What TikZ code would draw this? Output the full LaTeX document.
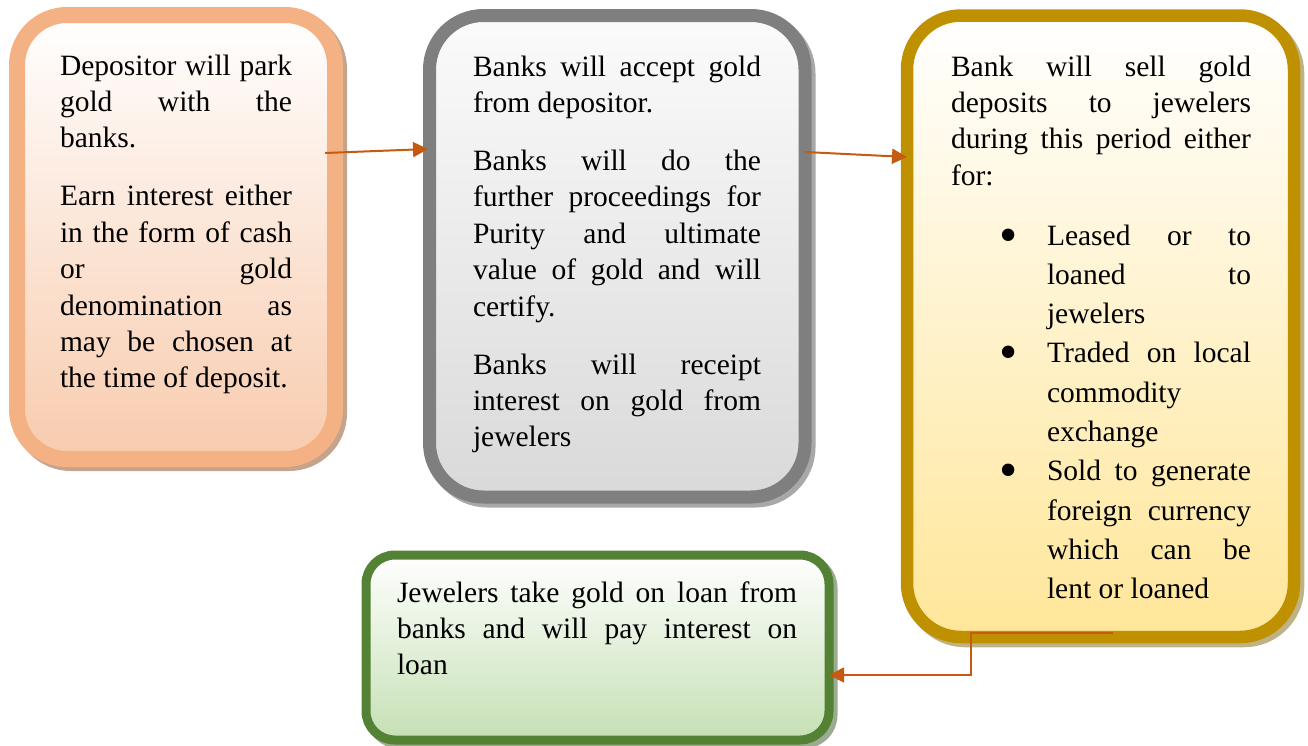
\documentclass[tikz,border=0pt]{standalone}
\usepackage{fontspec}
\setmainfont{Liberation Serif}
\usetikzlibrary{arrows.meta}
\definecolor{oBorder}{HTML}{F4B183}
\definecolor{oBottom}{HTML}{F8CBAD}
\definecolor{oShadow}{HTML}{C5A48D}
\definecolor{gBorder}{HTML}{7F7F7F}
\definecolor{gTop}{HTML}{FBFBFB}
\definecolor{gBottom}{HTML}{D9D9D9}
\definecolor{gShadow}{HTML}{A8A8A8}
\definecolor{yBorder}{HTML}{BF9000}
\definecolor{yBottom}{HTML}{FFE699}
\definecolor{yShadow}{HTML}{BEB387}
\definecolor{vBorder}{HTML}{548235}
\definecolor{vBottom}{HTML}{C5E0B4}
\definecolor{vShadow}{HTML}{9CAC93}
\definecolor{arrowc}{HTML}{C55A11}
\newcommand\txtsetup{\setlength{\parskip}{21.6pt}\tolerance=10000 \hbadness=10000 \hyphenpenalty=10000 \exhyphenpenalty=10000 }
\newcommand\bul{\leavevmode\llap{\raisebox{-7pt}{\fontsize{52}{52}\selectfont\textbullet}\hspace{29pt}}}
\begin{document}
\begin{tikzpicture}[x=1pt,y=-1pt,
  boxbase/.style={shape=rectangle, draw, inner sep=0pt, outer sep=0pt},
  orangebox/.style={boxbase, draw=oBorder, line width=16pt, rounded corners=50pt, top color=white, bottom color=oBottom},
  greybox/.style={boxbase, draw=gBorder, line width=13pt, rounded corners=54pt, top color=gTop, bottom color=gBottom},
  goldbox/.style={boxbase, draw=yBorder, line width=12.5pt, rounded corners=54pt, top color=white, bottom color=yBottom},
  greenbox/.style={boxbase, draw=vBorder, line width=9pt, rounded corners=29pt, top color=white, bottom color=vBottom},
  txt/.style={anchor=base west, inner sep=0pt, outer sep=0pt, align=justify, font=\fontsize{29.5}{36.4}\selectfont},
  conn/.style={draw=arrowc, line width=2pt, -{Triangle[length=15pt,width=15pt]}}
]
\useasboundingbox (0,0) rectangle (1308,745);

% shadows
\draw[oShadow, line width=16pt, rounded corners=50pt] (21,19) rectangle (339,463);
\draw[gShadow, line width=13pt, rounded corners=54pt] (433.5,19.5) rectangle (809,501);
\draw[yShadow, line width=12.5pt, rounded corners=54pt] (911,19.5) rectangle (1298,641);
\draw[vShadow, line width=9pt, rounded corners=29pt] (370,559) rectangle (833,744);

% boxes
\node[orangebox, minimum width=318pt, minimum height=444pt] (b1) at (176,237) {};
\node[greybox, minimum width=375.5pt, minimum height=481.5pt] (b2) at (617.25,256.25) {};
\node[goldbox, minimum width=387pt, minimum height=621.5pt] (b3) at (1100.5,326.25) {};
\node[greenbox, minimum width=463pt, minimum height=185pt] (b4) at (597.5,647.5) {};

% texts
\node[txt, text width=232pt] (t1) at (60,75) {\txtsetup Depositor will park\linebreak gold with the\linebreak banks.\par
Earn interest either\linebreak in the form of cash\linebreak or gold\linebreak denomination as\linebreak may be chosen at\linebreak the time of deposit.};

\node[txt, text width=288pt] (t2) at (473,76) {\txtsetup Banks will accept gold\linebreak from depositor.\par
Banks will do the\linebreak further proceedings for\linebreak Purity and ultimate\linebreak value of gold and will\linebreak certify.\par
Banks will receipt\linebreak interest on gold from\linebreak jewelers};

\node[txt, text width=300pt] (t3) at (951,76) {\txtsetup Bank will sell gold\linebreak deposits to jewelers\linebreak during this period either\linebreak for:};

\node[txt, text width=204pt, font=\fontsize{29.5}{39.3}\selectfont] (l3) at (1047,245) {\txtsetup\setlength{\parskip}{0pt}\bul Leased or to\linebreak loaned to\linebreak jewelers\par
\bul Traded on local\linebreak commodity\linebreak exchange\par
\bul Sold to generate\linebreak foreign currency\linebreak which can be\linebreak lent or loaned};

\node[txt, text width=400pt] (t4) at (397,602) {\txtsetup Jewelers take gold on loan from\linebreak banks and will pay interest on\linebreak loan};

% connectors
\coordinate (a1s) at (325,153);
\coordinate (a1e) at (428,149);
\coordinate (a2s) at (805,152);
\coordinate (a2e) at (907,157);
\coordinate (a3s) at (1113,633);
\coordinate (a3m) at (971,633);
\coordinate (a3n) at (971,675);
\coordinate (a3e) at (829,675);
\draw[conn] (a1s) -- (a1e);
\draw[conn] (a2s) -- (a2e);
\draw[conn, line width=1.8pt] (a3s) -- (a3m) -- (a3n) -- (a3e);
\end{tikzpicture}
\end{document}
